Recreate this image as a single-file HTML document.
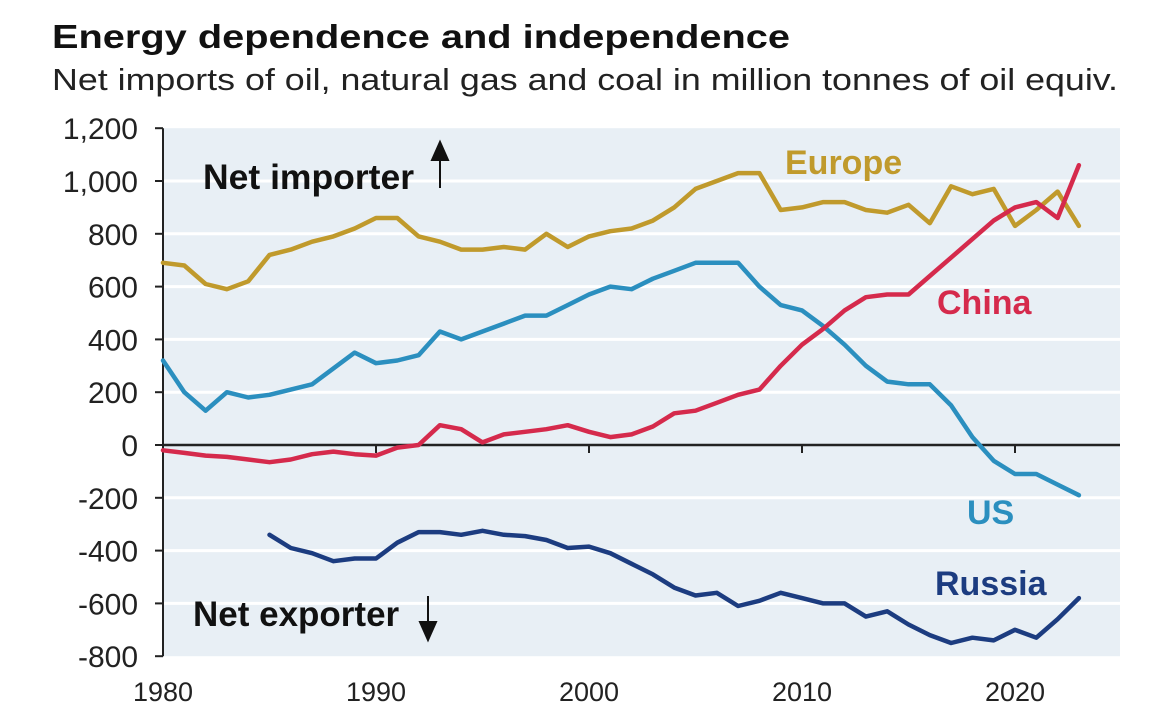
<!DOCTYPE html>
<html><head><meta charset="utf-8"><style>
html,body{margin:0;padding:0;background:#fff;}
body{width:1170px;height:711px;overflow:hidden;font-family:"Liberation Sans",Arial,sans-serif;}
</style></head><body>
<svg id="chart" width="1170" height="711" xmlns="http://www.w3.org/2000/svg" font-family="Liberation Sans, Arial, sans-serif">
<text x="52" y="48" font-size="33" font-weight="bold" fill="#111" textLength="738" lengthAdjust="spacingAndGlyphs">Energy dependence and independence</text>
<text x="52" y="90" font-size="31" fill="#222" textLength="1066" lengthAdjust="spacingAndGlyphs">Net imports of oil, natural gas and coal in million tonnes of oil equiv.</text>
<g id="plot"></g>
</svg>
<script>
const years = [];
for (let y = 1980; y <= 2023; y++) years.push(y);
const europe = [690,680,610,590,620,720,740,770,790,820,860,860,790,770,740,740,750,740,800,750,790,810,820,850,900,970,1000,1030,1030,890,900,920,920,890,880,910,840,980,950,970,830,890,960,830];
const us = [320,200,130,200,180,190,210,230,290,350,310,320,340,430,400,430,460,490,490,530,570,600,590,630,660,690,690,690,600,530,510,450,380,300,240,230,230,150,30,-60,-110,-110,-150,-190];
const china = [-20,-30,-40,-45,-55,-65,-55,-35,-25,-35,-40,-10,0,75,60,10,40,50,60,75,50,30,40,70,120,130,160,190,210,300,380,440,510,560,570,570,640,710,780,850,900,920,860,1060];
const russiaYears = [1985,1986,1987,1988,1989,1990,1991,1992,1993,1994,1995,1996,1997,1998,1999,2000,2001,2002,2003,2004,2005,2006,2007,2008,2009,2010,2011,2012,2013,2014,2015,2016,2017,2018,2019,2020,2021,2022,2023];
const russia = [-340,-390,-410,-440,-430,-430,-370,-330,-330,-340,-325,-340,-345,-360,-390,-385,-410,-450,-490,-540,-570,-560,-610,-590,-560,-580,-600,-600,-650,-630,-680,-720,-750,-730,-740,-700,-730,-660,-580];
const yTicks = [1200,1000,800,600,400,200,0,-200,-400,-600,-800];
const yTickLabels = ["1,200","1,000","800","600","400","200","0","-200","-400","-600","-800"];
const xTicks = [1980,1990,2000,2010,2020];

const NS = "http://www.w3.org/2000/svg";
const g = document.getElementById("plot");
const X0 = 163, PX_PER_YEAR = 21.3, Y0 = 445, PX_PER_UNIT = 52.8/200;
const xs = v => X0 + (v - 1980) * PX_PER_YEAR;
const ys = v => Y0 - v * PX_PER_UNIT;
function el(tag, attrs, parent) {
  const e = document.createElementNS(NS, tag);
  for (const k in attrs) e.setAttribute(k, attrs[k]);
  (parent || g).appendChild(e);
  return e;
}
const bg = el("rect", {x: X0, y: ys(1200), width: 1120 - X0, height: ys(-800) - ys(1200), fill: "#e8eff5"});


yTicks.forEach((t, i) => {
  if (t !== 0 && t !== 1200 && t !== -800) {
    const gl = el("line", {x1: X0, x2: 1120, y1: ys(t), y2: ys(t), stroke: "#fff", "stroke-width": 3});
    
    
  }
  const tk = el("line", {x1: X0 - 8, x2: X0, y1: ys(t), y2: ys(t), stroke: "#222", "stroke-width": 2});
  
  
  const lb = el("text", {x: 138, y: ys(t) + 11, "font-size": 30, "text-anchor": "end", fill: "#222"});
  lb.textContent = yTickLabels[i];
  
  
});
const ya = el("line", {x1: X0, x2: X0, y1: ys(1200), y2: ys(-800), stroke: "#222", "stroke-width": 2});


const xa = el("line", {x1: X0, x2: 1120, y1: Y0, y2: Y0, stroke: "#222", "stroke-width": 2.5});


xTicks.forEach(t => {
  const tk = el("line", {x1: xs(t), x2: xs(t), y1: Y0, y2: Y0 + 8, stroke: "#222", "stroke-width": 2});
  
  
  const lb = el("text", {x: xs(t), y: 701, "font-size": 27, "text-anchor": "middle", fill: "#222"});
  lb.textContent = t;
  
  
});
function line(xv, yv, color, name) {
  const pts = xv.map((x, i) => xs(x).toFixed(1) + "," + ys(yv[i]).toFixed(1)).join(" ");
  const p = el("polyline", {points: pts, fill: "none", stroke: color, "stroke-width": 4.5, "stroke-linejoin": "round", "stroke-linecap": "round"});
  
  
}
line(years, europe, "#c09a2c", "europe-line");
line(years, us, "#2b8fbf", "us-line");
line(russiaYears, russia, "#1c3c80", "russia-line");
line(years, china, "#d52a4c", "china-line");
function label(txt, x, y, color, name, size) {
  const t = el("text", {x: x, y: y, "font-size": size || 34, "font-weight": "bold", fill: color});
  t.textContent = txt;
  
  
}
label("Europe", 785, 174, "#c09a2c", "europe-label");
label("China", 937, 314, "#d52a4c", "china-label");
label("US", 967, 524, "#2b8fbf", "us-label");
label("Russia", 935, 595, "#1c3c80", "russia-label");
label("Net importer", 203, 189, "#111", "net-importer-label", 35.5);
label("Net exporter", 193, 626, "#111", "net-exporter-label", 35);
const a1 = el("path", {d: "M440 188 L440 152 M432 160 L440 142 L448 160 Z", stroke: "#111", "stroke-width": 2, fill: "#111"});


const a2 = el("path", {d: "M428 596 L428 630 M420 622 L428 640 L436 622 Z", stroke: "#111", "stroke-width": 2, fill: "#111"});


</script>
</body></html>
